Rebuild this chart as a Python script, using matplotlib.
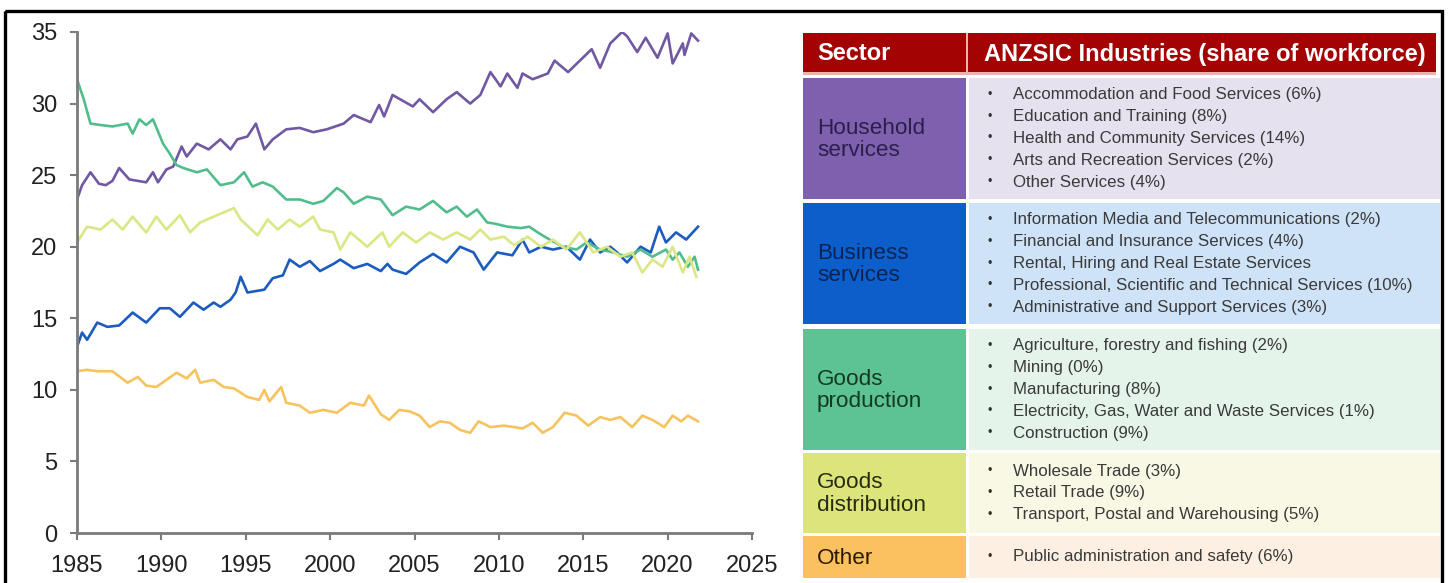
import matplotlib
matplotlib.use("Agg")
import matplotlib.pyplot as plt
from matplotlib.patches import Rectangle

plt.rcParams['font.family'] = ['Liberation Sans', 'DejaVu Sans']

# share of workforce by sector (%)
hh_years = [1985.0, 1985.3, 1985.8, 1986.3, 1986.7, 1987.1, 1987.5, 1988.1, 1988.6, 1989.1, 1989.5, 1989.8,
            1990.3, 1990.7, 1991.2, 1991.5, 1992.1, 1992.8, 1993.5, 1994.1, 1994.5, 1995.1, 1995.6, 1996.1,
            1996.6, 1997.4, 1998.2, 1999.0, 1999.8, 2000.8, 2001.4, 2001.8, 2002.4, 2002.9, 2003.2, 2003.7,
            2004.9, 2005.3, 2006.1, 2006.9, 2007.5, 2008.3, 2008.9, 2009.5, 2010.1, 2010.5, 2011.1, 2011.4,
            2012.0, 2012.9, 2013.3, 2014.1, 2014.8, 2015.5, 2016.0, 2016.6, 2017.3, 2017.6, 2018.2, 2018.7,
            2019.4, 2020.0, 2020.3, 2020.9, 2021.0, 2021.4, 2021.8]
hh_vals = [23.3, 24.3, 25.2, 24.4, 24.3, 24.6, 25.5, 24.7, 24.6, 24.5, 25.2, 24.5,
           25.4, 25.6, 27.0, 26.3, 27.2, 26.8, 27.5, 26.8, 27.5, 27.7, 28.6, 26.8,
           27.5, 28.2, 28.3, 28.0, 28.2, 28.6, 29.2, 29.0, 28.7, 29.9, 29.1, 30.6,
           29.8, 30.3, 29.4, 30.3, 30.8, 30.0, 30.6, 32.2, 31.2, 32.1, 31.1, 32.1,
           31.7, 32.1, 33.0, 32.2, 33.0, 33.8, 32.5, 34.2, 35.0, 34.7, 33.6, 34.6,
           33.2, 34.9, 32.8, 34.2, 33.4, 34.9, 34.4]

bs_years = [1985.0, 1985.3, 1985.6, 1986.2, 1986.8, 1987.5, 1988.3, 1989.1, 1989.9, 1990.5, 1991.1, 1991.9,
            1992.5, 1993.1, 1993.5, 1994.1, 1994.4, 1994.7, 1995.1, 1996.1, 1996.6, 1997.2, 1997.6, 1998.2,
            1998.8, 1999.4, 2000.2, 2000.6, 2001.4, 2002.2, 2003.0, 2003.4, 2003.7, 2004.5, 2005.3, 2006.1,
            2006.9, 2007.7, 2008.5, 2009.1, 2009.9, 2010.8, 2011.4, 2011.8, 2012.5, 2013.2, 2014.0, 2014.8,
            2015.4, 2016.0, 2016.6, 2017.0, 2017.6, 2018.4, 2019.0, 2019.5, 2019.9, 2020.5, 2021.1, 2021.8]
bs_vals = [13.0, 14.0, 13.5, 14.7, 14.4, 14.5, 15.4, 14.7, 15.7, 15.7, 15.1, 16.1,
           15.6, 16.1, 15.8, 16.3, 16.8, 17.9, 16.8, 17.0, 17.8, 18.0, 19.1, 18.6,
           19.0, 18.3, 18.8, 19.1, 18.5, 18.8, 18.3, 18.8, 18.4, 18.1, 18.9, 19.5,
           18.9, 20.0, 19.6, 18.4, 19.6, 19.4, 20.5, 19.6, 20.0, 19.8, 20.0, 19.1,
           20.5, 19.6, 20.0, 19.6, 18.9, 20.0, 19.6, 21.4, 20.3, 21.0, 20.5, 21.4]

gp_years = [1985.0, 1985.4, 1985.8, 1986.4, 1987.1, 1988.0, 1988.3, 1988.7, 1989.1, 1989.5, 1990.1, 1990.5,
            1990.9, 1991.3, 1992.1, 1992.7, 1993.5, 1994.3, 1994.9, 1995.4, 1996.0, 1996.6, 1997.4, 1998.2,
            1999.0, 1999.6, 2000.4, 2000.8, 2001.4, 2002.2, 2003.0, 2003.7, 2004.5, 2005.3, 2006.1, 2006.9,
            2007.5, 2008.1, 2008.7, 2009.3, 2009.8, 2010.5, 2011.3, 2011.8, 2012.3, 2013.0, 2013.8, 2014.6,
            2015.2, 2016.0, 2016.8, 2017.6, 2018.4, 2019.1, 2019.9, 2020.3, 2020.7, 2021.2, 2021.6, 2021.8]
gp_vals = [31.7, 30.3, 28.6, 28.5, 28.4, 28.6, 27.9, 28.9, 28.5, 28.9, 27.2, 26.5,
           25.7, 25.5, 25.2, 25.4, 24.3, 24.5, 25.2, 24.2, 24.5, 24.2, 23.3, 23.3,
           23.0, 23.2, 24.1, 23.8, 23.0, 23.5, 23.3, 22.2, 22.8, 22.6, 23.2, 22.4,
           22.8, 22.1, 22.6, 21.7, 21.6, 21.4, 21.3, 21.4, 21.0, 20.5, 20.0, 19.8,
           20.3, 19.8, 19.6, 19.3, 19.8, 19.3, 19.8, 19.1, 19.6, 18.6, 19.3, 18.4]

gd_years = [1985.0, 1985.6, 1986.4, 1987.1, 1987.7, 1988.3, 1989.1, 1989.7, 1990.3, 1991.1, 1991.7, 1992.3,
            1993.1, 1993.7, 1994.3, 1994.7, 1995.7, 1996.3, 1996.9, 1997.6, 1998.2, 1999.0, 1999.4, 2000.2,
            2000.6, 2001.2, 2002.2, 2003.1, 2003.5, 2004.3, 2005.1, 2005.9, 2006.7, 2007.5, 2008.3, 2008.9,
            2009.5, 2010.3, 2010.9, 2011.7, 2012.5, 2013.2, 2014.0, 2014.8, 2015.6, 2016.4, 2017.2, 2017.9,
            2018.5, 2019.1, 2019.7, 2020.3, 2020.9, 2021.3, 2021.7]
gd_vals = [20.3, 21.4, 21.2, 21.9, 21.2, 22.1, 21.0, 22.1, 21.2, 22.2, 21.0, 21.7,
           22.1, 22.4, 22.7, 21.9, 20.8, 21.9, 21.2, 21.9, 21.4, 22.1, 21.2, 21.0,
           19.8, 21.0, 20.0, 21.0, 20.0, 21.0, 20.3, 21.0, 20.5, 21.0, 20.5, 21.2,
           20.5, 20.7, 20.1, 20.7, 20.0, 20.5, 19.8, 21.0, 19.6, 20.0, 19.3, 19.6,
           18.2, 19.1, 18.6, 20.0, 18.2, 19.3, 17.9]

ot_years = [1985.0, 1985.6, 1986.2, 1987.1, 1988.0, 1988.6, 1989.1, 1989.7, 1990.3, 1990.9, 1991.5, 1992.0,
            1992.3, 1993.1, 1993.7, 1994.3, 1995.1, 1995.8, 1996.1, 1996.4, 1997.1, 1997.4, 1998.2, 1998.8,
            1999.6, 2000.4, 2001.2, 2002.0, 2002.3, 2003.0, 2003.5, 2004.1, 2004.7, 2005.3, 2005.9, 2006.5,
            2007.1, 2007.7, 2008.3, 2008.8, 2009.5, 2010.3, 2010.9, 2011.4, 2012.0, 2012.6, 2013.2, 2013.9,
            2014.6, 2015.3, 2016.0, 2016.6, 2017.2, 2017.9, 2018.5, 2019.1, 2019.8, 2020.3, 2020.8, 2021.2,
            2021.8]
ot_vals = [11.3, 11.4, 11.3, 11.3, 10.5, 10.9, 10.3, 10.2, 10.7, 11.2, 10.8, 11.4,
           10.5, 10.7, 10.2, 10.1, 9.5, 9.3, 10.0, 9.2, 10.2, 9.1, 8.9, 8.4,
           8.6, 8.4, 9.1, 8.9, 9.6, 8.3, 7.9, 8.6, 8.5, 8.2, 7.4, 7.8,
           7.7, 7.2, 7.0, 7.8, 7.4, 7.5, 7.4, 7.3, 7.7, 7.0, 7.4, 8.4,
           8.2, 7.5, 8.1, 7.9, 8.1, 7.4, 8.2, 7.9, 7.4, 8.2, 7.8, 8.2,
           7.8]

# table contents
sectors = ["Household\nservices", "Business\nservices", "Goods\nproduction", "Goods\ndistribution", "Other"]
industries = [
    ["Accommodation and Food Services (6%)", "Education and Training (8%)",
     "Health and Community Services (14%)", "Arts and Recreation Services (2%)", "Other Services (4%)"],
    ["Information Media and Telecommunications (2%)", "Financial and Insurance Services (4%)",
     "Rental, Hiring and Real Estate Services", "Professional, Scientific and Technical Services (10%)",
     "Administrative and Support Services (3%)"],
    ["Agriculture, forestry and fishing (2%)", "Mining (0%)", "Manufacturing (8%)",
     "Electricity, Gas, Water and Waste Services (1%)", "Construction (9%)"],
    ["Wholesale Trade (3%)", "Retail Trade (9%)", "Transport, Postal and Warehousing (5%)"],
    ["Public administration and safety (6%)"],
]

line_colors = ["#7058a2", "#1b5cbe", "#52bd8c", "#dbe684", "#f6c35f"]
dark_cells = ["#7e60ae", "#0c5fcb", "#5ec394", "#dbe57c", "#fbc15e"]
light_cells = ["#e6e1ee", "#cfe3f8", "#e4f4eb", "#f8f8e4", "#fdf0e2"]
sector_text = ["#2a1f4a", "#0b2350", "#123a22", "#2a2a10", "#2a1a00"]

W, H = 1448, 583
fig = plt.figure(figsize=(W / 100, H / 100), dpi=100)

# overlay in pixel units for the frame and the table
ov = fig.add_axes([0, 0, 1, 1])
ov.set_xlim(0, W)
ov.set_ylim(H, 0)
ov.axis("off")

ov.add_patch(Rectangle((5, 11), 1437, 620, fill=False, edgecolor="black", lw=2.4, clip_on=False))

# header
x0, xs, x1 = 803, 966, 1440
ov.add_patch(Rectangle((x0, 33), xs - x0, 39, facecolor="#a30303", edgecolor="none"))
ov.add_patch(Rectangle((xs + 2, 33), x1 - 4 - xs - 2, 39, facecolor="#a30303", edgecolor="none"))
ov.add_patch(Rectangle((x0, 72), x1 - x0 - 4, 3, facecolor="#eeb0b0", edgecolor="none"))
ov.add_patch(Rectangle((xs, 33), 2, 42, facecolor="#eeb0b0", edgecolor="none"))
ov.text(817, 54, "Sector", color="white", fontsize=17, fontweight="bold", va="center")
ov.text(984, 54, "ANZSIC Industries (share of workforce)", color="white", fontsize=17,
        fontweight="bold", va="center")

rows = [(78, 199), (203, 324), (329, 450), (453, 533), (536, 578)]
for i, (top, bot) in enumerate(rows):
    ov.add_patch(Rectangle((x0, top), xs - x0, bot - top, facecolor=dark_cells[i], edgecolor="none"))
    cell = Rectangle((xs + 3, top), x1 - xs - 3, bot - top, facecolor=light_cells[i], edgecolor="none")
    ov.add_patch(cell)
    ov.text(817, (top + bot) / 2 + 1, sectors[i], color=sector_text[i], fontsize=16.2,
            va="center", linespacing=1.1)
    n = len(industries[i])
    mid = (top + bot) / 2
    for j, item in enumerate(industries[i]):
        yy = mid + (j - (n - 1) / 2) * 21.8
        ov.text(987, yy, "\u2022", color="#333333", fontsize=9, va="center")
        t = ov.text(1013, yy, item, color="#3a3a3a", fontsize=12.2, va="center")
        t.set_clip_path(cell)

# line chart
ax = fig.add_axes([77 / W, 1 - 533 / H, (752 - 77) / W, (533 - 32) / H])
ax.set_facecolor("none")
ax.plot(hh_years, hh_vals, color=line_colors[0], lw=1.9)
ax.plot(bs_years, bs_vals, color=line_colors[1], lw=1.9)
ax.plot(gp_years, gp_vals, color=line_colors[2], lw=1.9)
ax.plot(gd_years, gd_vals, color=line_colors[3], lw=1.9)
ax.plot(ot_years, ot_vals, color=line_colors[4], lw=1.9)

ax.set_xlim(1985, 2025)
ax.set_ylim(0, 35)
ax.set_xticks(range(1985, 2026, 5))
ax.set_yticks(range(0, 36, 5))
for s in ["top", "right"]:
    ax.spines[s].set_visible(False)
for s in ["left", "bottom"]:
    ax.spines[s].set_color("#7a7a7a")
    ax.spines[s].set_linewidth(2)
ax.tick_params(direction="out", length=5, width=1.5, color="#7a7a7a", labelsize=17,
               labelcolor="#222222")
ax.tick_params(axis="x", pad=11)
ax.tick_params(axis="y", pad=9)

fig.savefig("out.png", dpi=100)
